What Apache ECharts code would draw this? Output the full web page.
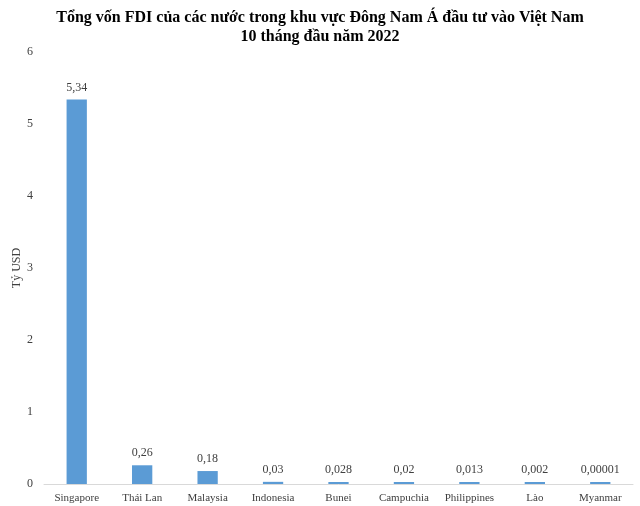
<!DOCTYPE html>
<html>
<head>
<meta charset="utf-8">
<script src="https://cdn.jsdelivr.net/npm/echarts@6/dist/echarts.min.js"></script>
<style>
  html, body { margin: 0; padding: 0; background: #fff; }
  #chart { width: 640px; height: 506px; }
</style>
</head>
<body>
<div id="chart"></div>
<script>
const countries = ['Singapore', 'Thái Lan', 'Malaysia', 'Indonesia', 'Bunei', 'Campuchia', 'Philippines', 'Lào', 'Myanmar'];
const fdiValues = [5.34, 0.26, 0.18, 0.03, 0.028, 0.02, 0.013, 0.002, 0.00001];
const yTicks = [0, 1, 2, 3, 4, 5, 6];

const serif = '"Liberation Serif", "Times New Roman", serif';

const chart = echarts.init(document.getElementById('chart'));
chart.setOption({
  animation: false,
  title: {
    text: 'Tổng vốn FDI của các nước trong khu vực Đông Nam Á đầu tư vào Việt Nam\n10 tháng đầu năm 2022',
    left: 'center',
    top: 3,
    textStyle: { fontFamily: serif, fontSize: 16, fontWeight: 'bold', color: '#000', lineHeight: 19 }
  },
  grid: { left: 44, right: 7, top: 52, bottom: 22, outerBoundsMode: 'none' },
  xAxis: {
    type: 'category',
    data: countries,
    axisLine: { lineStyle: { color: '#d9d9d9' } },
    axisTick: { show: false },
    axisLabel: { interval: 0, fontFamily: serif, fontSize: 11, color: '#404040', margin: 9 }
  },
  yAxis: {
    type: 'value',
    min: yTicks[0],
    max: yTicks[yTicks.length - 1],
    interval: 1,
    name: 'Tỷ USD',
    nameLocation: 'middle',
    nameGap: 21,
    nameMoveOverlap: false,
    nameTextStyle: { fontFamily: serif, fontSize: 12, color: '#404040' },
    splitLine: { show: false },
    axisLine: { show: false },
    axisTick: { show: false },
    axisLabel: { fontFamily: serif, fontSize: 12, color: '#404040', margin: 11 }
  },
  series: [{
    type: 'bar',
    data: fdiValues,
    barWidth: '31%',
    barMinHeight: 2,
    itemStyle: { color: '#5b9bd5' },
    label: {
      show: true,
      position: 'top',
      distance: 6,
      fontFamily: serif,
      fontSize: 12,
      color: '#404040',
      formatter: p => String(p.value).replace('.', ',')
    }
  }]
});
</script>
</body>
</html>
